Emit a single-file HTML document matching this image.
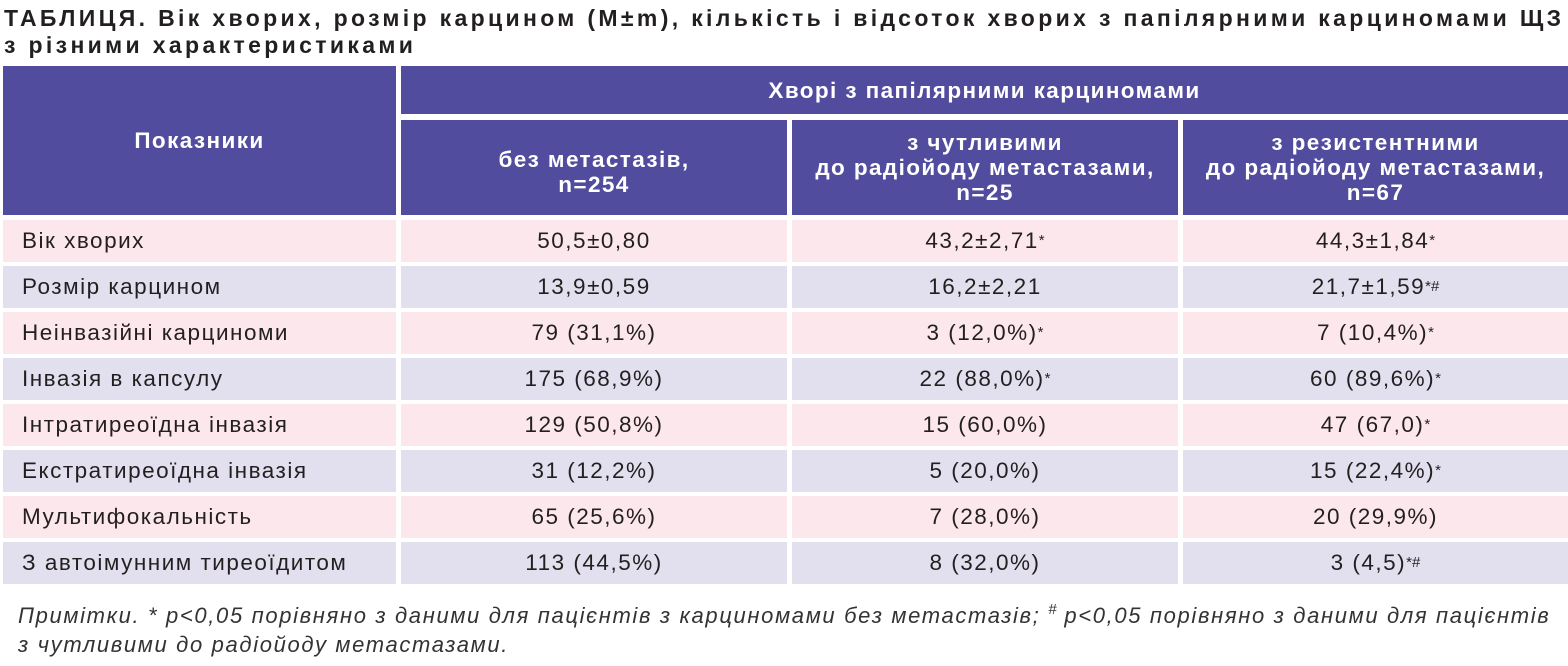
<!DOCTYPE html>
<html><head><meta charset="utf-8"><style>
body{margin:0;width:1568px;height:666px;background:#fff;font-family:"Liberation Sans","DejaVu Sans",sans-serif;color:#231f20;position:relative;overflow:hidden}
.a{position:absolute;box-sizing:border-box;display:flex;align-items:center;justify-content:center;text-align:center;white-space:nowrap}
.h{background:#514c9e;color:#fff;font-weight:bold;font-size:22.5px;letter-spacing:1.4px;line-height:25px}
.p{background:#fce8ec}.l{background:#e2e0ee}
.d{font-size:22.5px;letter-spacing:1.5px}
.f{justify-content:flex-start;padding-left:19px}
sup{font-size:15px;vertical-align:9px;line-height:0;letter-spacing:0}
.t{position:absolute;left:4px;font-weight:bold;font-size:23px;letter-spacing:3.35px;line-height:27px;top:5px;white-space:nowrap;color:#231f20}
.n{position:absolute;left:18px;top:601px;font-style:italic;font-size:22px;letter-spacing:1.65px;line-height:29px;color:#333;white-space:nowrap}
</style></head><body>
<div class="t">ТАБЛИЦЯ. Вік хворих, розмір карцином (M±m), кількість і відсоток хворих з папілярними карциномами ЩЗ<br>з різними характеристиками</div>
<div class="a h" style="left:3px;top:66px;width:393px;height:149px">Показники</div>
<div class="a h" style="left:401px;top:66px;width:1167px;height:48px">Хворі з папілярними карциномами</div>
<div class="a h" style="left:401px;top:120px;width:386px;height:95px;padding-top:8px">без метастазів,<br>n=254</div>
<div class="a h" style="left:792px;top:120px;width:386px;height:95px">з чутливими<br>до радіойоду метастазами,<br>n=25</div>
<div class="a h" style="left:1183px;top:120px;width:385px;height:95px">з резистентними<br>до радіойоду метастазами,<br>n=67</div>
<div id="rows"></div>
<script>
var R=[["Вік хворих","50,5±0,80","43,2±2,71<sup>*</sup>","44,3±1,84<sup>*</sup>"],
["Розмір карцином","13,9±0,59","16,2±2,21","21,7±1,59<sup>*#</sup>"],
["Неінвазійні карциноми","79 (31,1%)","3 (12,0%)<sup>*</sup>","7 (10,4%)<sup>*</sup>"],
["Інвазія в капсулу","175 (68,9%)","22 (88,0%)<sup>*</sup>","60 (89,6%)<sup>*</sup>"],
["Інтратиреоїдна інвазія","129 (50,8%)","15 (60,0%)","47 (67,0)<sup>*</sup>"],
["Екстратиреоїдна інвазія","31 (12,2%)","5 (20,0%)","15 (22,4%)<sup>*</sup>"],
["Мультифокальність","65 (25,6%)","7 (28,0%)","20 (29,9%)"],
["З автоімунним тиреоїдитом","113 (44,5%)","8 (32,0%)","3 (4,5)<sup>*#</sup>"]];
var X=[[3,393],[401,386],[792,386],[1183,385]],h="";
R.forEach(function(r,i){var y=220+i*46,c=i%2?"l":"p";
r.forEach(function(v,j){h+='<div class="a d '+c+(j?'':' f')+'" style="left:'+X[j][0]+'px;top:'+y+'px;width:'+X[j][1]+'px;height:42px">'+v+'</div>';});});
document.getElementById("rows").innerHTML=h;
</script>
<div class="n">Примітки. * p&lt;0,05 порівняно з даними для пацієнтів з карциномами без метастазів; <sup>#</sup> p&lt;0,05 порівняно з даними для пацієнтів<br>з чутливими до радіойоду метастазами.</div>
</body></html>
